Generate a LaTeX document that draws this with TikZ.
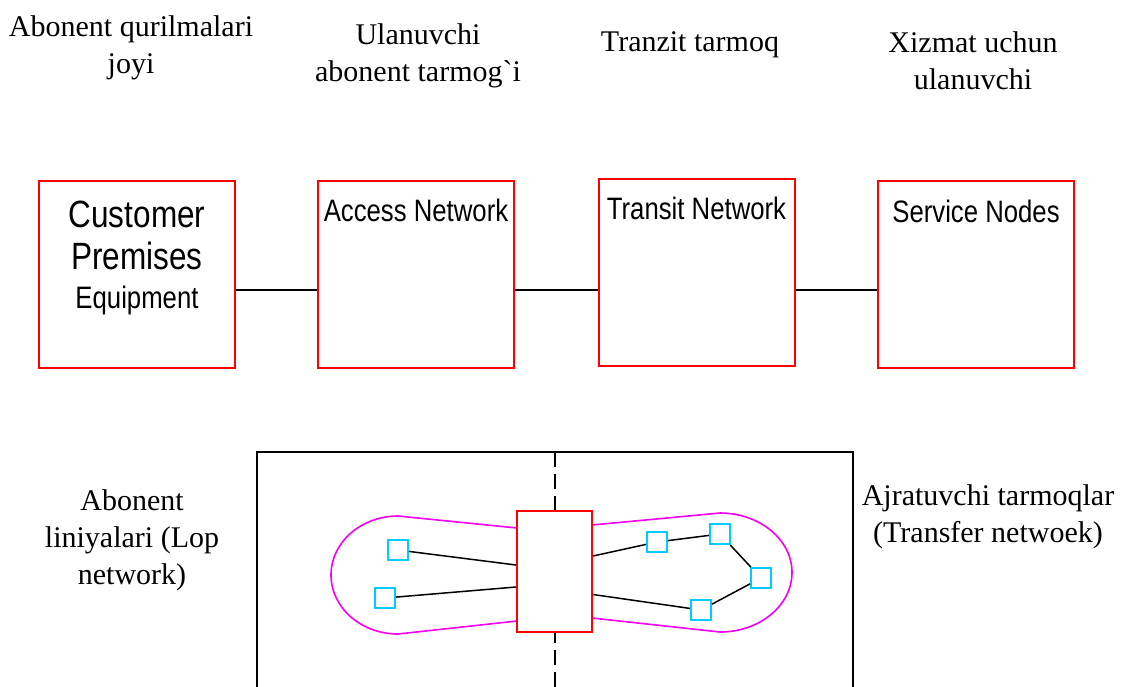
\documentclass[tikz,border=0pt]{standalone}
\usepackage{fontspec}
\setmainfont{Liberation Serif}
\newfontfamily\rawserif{Liberation Serif}[Ligatures=TeXOff]
\newfontfamily\boxfont[FakeStretch=0.83]{Liberation Sans}
\usepackage{tikz}
\usetikzlibrary{positioning,calc}
\usepackage{xcolor}
\definecolor{nwred}{RGB}{255,0,0}
\definecolor{nwmagenta}{RGB}{245,0,245}
\definecolor{nwcyan}{RGB}{0,204,255}
\tikzstyle{heading} = [align=center, inner sep=0pt, font=\fontsize{15}{18.5}\selectfont]
\tikzstyle{netbox} = [rectangle, draw=nwred, line width=1pt, minimum width=98pt, minimum height=93.5pt, inner sep=0pt]
\tikzstyle{boxtext} = [inner sep=0pt, font=\boxfont\fontsize{15.5}{18}\selectfont]
\tikzstyle{link} = [line width=0.75pt, color=black]
\tikzstyle{hub} = [rectangle, draw=nwred, fill=white, line width=1pt, minimum width=37.5pt, minimum height=60.5pt, inner sep=0pt]
\tikzstyle{term} = [rectangle, draw=nwcyan, line width=1pt, minimum size=10pt, inner sep=0pt]
\tikzstyle{lobe} = [line width=0.8pt, color=nwmagenta]

\begin{document}
\begin{tikzpicture}[x=0.5pt, y=-0.5pt]
    \useasboundingbox (0,0) rectangle (1129,686);

    % Headings
    \node[heading] (cpeLbl) at (131,48) {Abonent qurilmalari\\joyi};
    \node[heading] (accLbl) at (418,56) {Ulanuvchi\\abonent tarmog{\rawserif`}i};
    \node[heading] (trnLbl) at (690,45) {Tranzit tarmoq};
    \node[heading] (srvLbl) at (973,61) {Xizmat uchun\\ulanuvchi};

    % Network parts
    \node[netbox] (cpe) at (137,274.5) {};
    \node[netbox] (acc) at (416,274.5) {};
    \node[netbox] (trn) at (696.5,272.5) {};
    \node[netbox] (srv) at (976,274.5) {};

    \node[boxtext, align=center, anchor=north] (cpeTxt) at ($(cpe.north)+(0,21)$) {{\fontsize{19}{21}\selectfont Customer}\\[3pt]{\fontsize{19}{21}\selectfont Premises}\\[1.5pt]Equipment};
    \node[boxtext, anchor=base] (accTxt) at ($(acc.north)+(0,41.7)$) {Access Network};
    \node[boxtext, anchor=base] (trnTxt) at ($(trn.north)+(0,41.7)$) {Transit Network};
    \node[boxtext, anchor=base] (srvTxt) at ($(srv.north)+(0,42.3)$) {Service Nodes};

    % Links
    \coordinate (lnk) at (0,290);
    \draw[link] (cpe.east |- lnk) -- (acc.west |- lnk);
    \draw[link] (acc.east |- lnk) -- (trn.west |- lnk);
    \draw[link] (trn.east |- lnk) -- (srv.west |- lnk);

    % Lower part
    \draw[line width=1pt] (257,692) -- (257,452) -- (853,452) -- (853,692);
    \draw[line width=0.75pt, dash pattern=on 7.5pt off 3.5pt] (555,452) -- (555,692);

    \draw[lobe] (517,528) -- (398,516) arc[start angle=-90, end angle=-270, x radius=67, y radius=59] -- (517,621);
    \draw[lobe] (592,525) -- (720,513) arc[start angle=-90, end angle=90, x radius=72, y radius=59.5] -- (592,618);

    \node[hub] (hub) at (554.5,571.5) {};

    \node[term] (l1) at (398,550) {};
    \node[term] (l2) at (385,598) {};
    \node[term] (r1) at (657,542) {};
    \node[term] (r2) at (720,534) {};
    \node[term] (r3) at (761,578) {};
    \node[term] (r4) at (701,610) {};

    \draw[link] (l1) -- ($(hub.west)+(0,-6.5)$);
    \draw[link] (l2) -- ($(hub.west)+(0,15.5)$);
    \draw[link] ($(hub.east)+(0,-15.5)$) -- (r1);
    \draw[link] (r1) -- (r2);
    \draw[link] (r2) -- (r3);
    \draw[link] (r3) -- (r4);
    \draw[link] ($(hub.east)+(0,23)$) -- (r4);

    % Side labels
    \node[heading] (lopLbl) at (132,540) {Abonent\\liniyalari (Lop\\network)};
    \node[heading] (trfLbl) at (988,516.5) {Ajratuvchi tarmoqlar\\(Transfer netwoek)};
\end{tikzpicture}
\end{document}
